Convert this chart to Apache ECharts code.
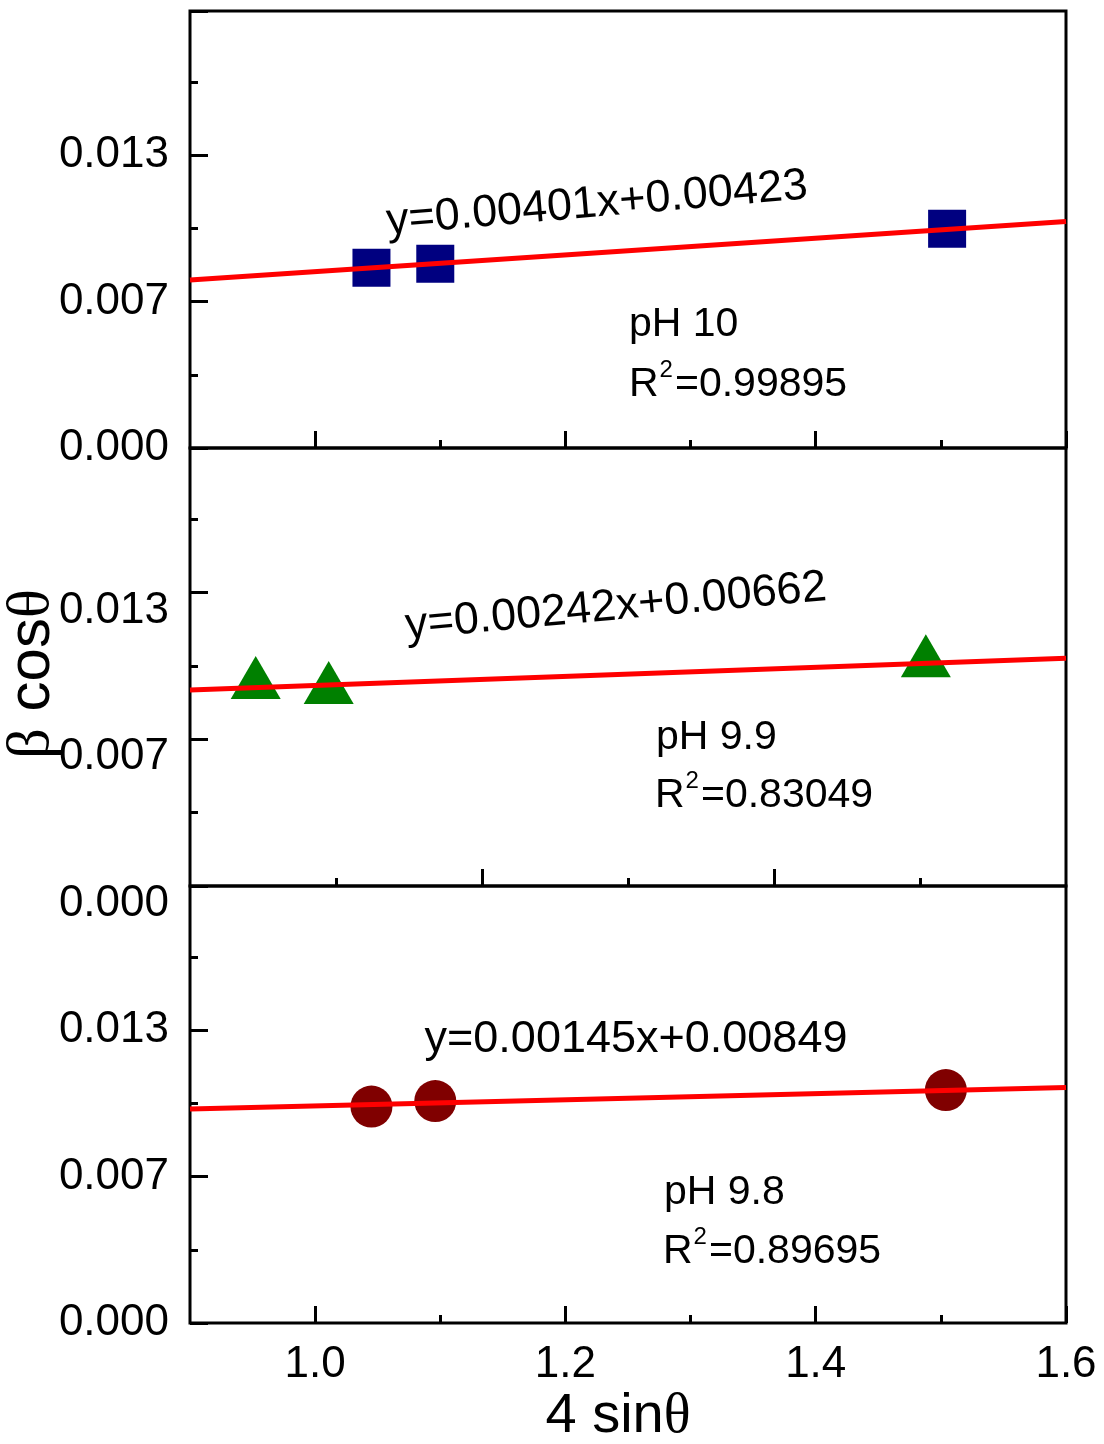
<!DOCTYPE html>
<html><head><meta charset="utf-8">
<script src="https://cdn.jsdelivr.net/npm/echarts@6/dist/echarts.min.js"></script>
<style>html,body{margin:0;padding:0;background:#fff}#c{width:1104px;height:1444px}</style>
</head><body><div id="c"></div>
<script>
// ---- axis ticks / labels ----
const xMajorTicks = [1.0, 1.2, 1.4, 1.6];
const xMinorTicks = [1.1, 1.3, 1.5];
const xTickLabels = ['1.0', '1.2', '1.4', '1.6'];
const midXMajorTicks = [1.1, 1.3];
const midXMinorTicks = [1.0, 1.2, 1.4];
const yTickLabels = ['0.000', '0.007', '0.013'];

// ---- data ----
const ph10X = [1.045, 1.096, 1.505];
const ph10Y = [0.00800, 0.00818, 0.00973];
const ph10FitX = [0.9, 1.6];
const ph10FitY = [0.00746, 0.01005];

const ph99X = [0.945, 0.995, 1.404];
const ph99Y = [0.00924, 0.00901, 0.01020];
const ph99FitX = [0.9, 1.5];
const ph99FitY = [0.00868, 0.01009];

const ph98X = [1.045, 1.096, 1.504];
const ph98Y = [0.00961, 0.00985, 0.01034];
const ph98FitX = [0.9, 1.6];
const ph98FitY = [0.00950, 0.01046];

const SANS = 'Liberation Sans';
const SERIF = 'Liberation Serif';
const zip = (a, b) => a.map((v, i) => [v, b[i]]);

function gridDef(top, height) {
  return {left: 190, right: 38, top: top, height: height, show: true,
    borderColor: '#000', borderWidth: 3, backgroundColor: 'transparent', outerBoundsMode: 'none'};
}
function xAx(g, min, max, ticks, len, labels) {
  const ax = {type: 'value', gridIndex: g, position: 'bottom', min: min, max: max,
    axisLine: {show: false, onZero: false},
    splitLine: {show: false},
    axisTick: {show: true, inside: true, length: len, customValues: ticks, lineStyle: {color: '#000', width: 3}},
    axisLabel: {show: false}};
  if (labels) {
    ax.axisLabel = {show: true, customValues: ticks, margin: 20, fontSize: 44, fontFamily: SANS, color: '#000',
      formatter: v => { let k = 0; ticks.forEach((t, i) => { if (Math.abs(t - v) < 1e-6) k = i; }); return labels[k]; }};
  }
  return ax;
}
function yAx(g, shift) {
  const ax = {type: 'value', gridIndex: g, position: 'left', min: 0, max: 0.0194, interval: 0.0065,
    axisLine: {show: false},
    splitLine: {show: false},
    axisTick: {show: true, inside: true, length: 18, lineStyle: {color: '#000', width: 3}},
    minorTick: {show: true, splitNumber: 2, length: 8, lineStyle: {color: '#000', width: 3}},
    axisLabel: {show: true, showMaxLabel: false, margin: 21, fontSize: 44, fontFamily: SANS, color: '#000',
      formatter: v => {
        const lab = yTickLabels[Math.round(v / 0.0065)] || '';
        return shift ? '{m|' + lab + '}' : lab;
      },
      rich: {m: {fontSize: 44, fontFamily: SANS, color: '#000', padding: [36, 0, 0, 0]}}
    }};
  return ax;
}
function scat(xi, yi, xs, ys, symbol, size, color) {
  return {type: 'scatter', xAxisIndex: xi, yAxisIndex: yi, data: zip(xs, ys), symbol: symbol,
    symbolSize: size, itemStyle: {color: color, opacity: 1}, z: 2, silent: true};
}
function fit(xi, yi, xs, ys) {
  return {type: 'line', xAxisIndex: xi, yAxisIndex: yi, data: zip(xs, ys), showSymbol: false, symbol: 'none',
    lineStyle: {color: '#ff0000', width: 5, opacity: 1}, z: 3, silent: true};
}
function txt(x, y, text, size, opts) {
  opts = opts || {};
  return {type: 'text', x: x, y: y, rotation: (opts.rot || 0) * Math.PI / 180, z: 10,
    style: {text: text, fontSize: size, fontFamily: SANS, fill: '#000',
      align: opts.align || 'left', textAlign: opts.align || 'left',
      verticalAlign: 'middle', textVerticalAlign: 'middle', rich: opts.rich}};
}
const r2rich = {
  a: {fontSize: 41, fontFamily: SANS, fill: '#000', color: '#000', lineHeight: 54},
  s: {fontSize: 24, fontFamily: SANS, fill: '#000', color: '#000', lineHeight: 24, verticalAlign: 'top', padding: [0, 2, 0, 1]}
};
function r2(x, y, val) {
  return txt(x, y, '{a|R}{s|2}{a|=' + val + '}', 41, {rich: r2rich});
}

const chart = echarts.init(document.getElementById('c'), null, {renderer: 'canvas'});
chart.setOption({
  animation: false,
  backgroundColor: '#fff',
  grid: [gridDef(11, 437), gridDef(448, 438), gridDef(886, 437)],
  xAxis: [
    xAx(0, 0.9, 1.6, xMajorTicks, 17),
    xAx(0, 0.9, 1.6, xMinorTicks, 8),
    xAx(1, 0.9, 1.5, midXMajorTicks, 17),
    xAx(1, 0.9, 1.5, midXMinorTicks, 8),
    xAx(2, 0.9, 1.6, xMajorTicks, 17, xTickLabels),
    xAx(2, 0.9, 1.6, xMinorTicks, 8)
  ],
  yAxis: [yAx(0, false), yAx(1, true), yAx(2, false)],
  series: [
    scat(0, 0, ph10X, ph10Y, 'rect', 38, '#000080'),
    fit(0, 0, ph10FitX, ph10FitY),
    scat(2, 1, ph99X, ph99Y, 'triangle', [50, 43], '#008000'),
    fit(2, 1, ph99FitX, ph99FitY),
    scat(4, 2, ph98X, ph98Y, 'circle', 42, '#800000'),
    fit(4, 2, ph98FitX, ph98FitY)
  ],
  graphic: [
    txt(597, 204, 'y=0.00401x+0.00423', 45, {align: 'center', rot: 4.9}),
    txt(616, 607, 'y=0.00242x+0.00662', 45, {align: 'center', rot: 5.3}),
    txt(636, 1040, 'y=0.00145x+0.00849', 45, {align: 'center'}),
    txt(629, 325, 'pH 10', 41),
    r2(629, 385, '0.99895'),
    txt(656, 738, 'pH 9.9', 41),
    r2(655, 796, '0.83049'),
    txt(664, 1193, 'pH 9.8', 41),
    r2(663, 1252, '0.89695'),
    txt(618, 1417, '{t|4 sin}{g|θ}', 56, {align: 'center', rich: {
      t: {fontSize: 56, fontFamily: SANS, fill: '#000'},
      g: {fontSize: 56, fontFamily: SERIF, fill: '#000'}}}),
    txt(32, 674, '{g|β}{t| cos}{g|θ}', 60, {align: 'center', rot: 90, rich: {
      t: {fontSize: 60, fontFamily: SANS, fill: '#000'},
      g: {fontSize: 60, fontFamily: SERIF, fill: '#000'}}})
  ]
});
</script>
</body></html>
